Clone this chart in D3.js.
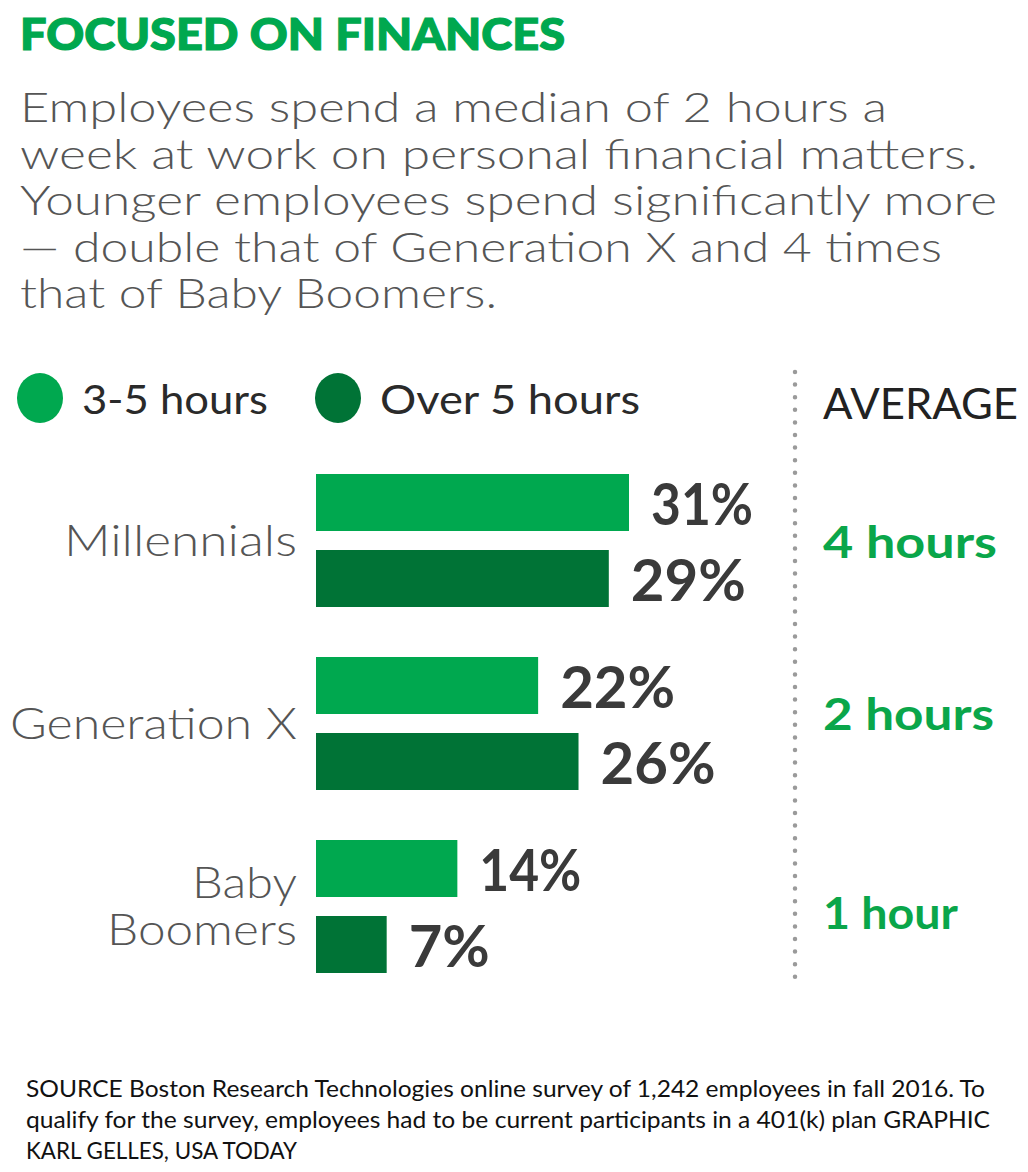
<!DOCTYPE html>
<html>
<head>
<meta charset="utf-8">
<script src="https://cdn.jsdelivr.net/npm/d3@7"></script>
<style>
  html, body { margin: 0; padding: 0; background: #fff; }
  svg { display: block; }
</style>
</head>
<body>
<svg id="chart" width="1028" height="1172"></svg>
<script>
// ---- data ----
const categories = ["Millennials", "Generation X", "Baby Boomers"];
const categoryLines = [["Millennials"], ["Generation X"], ["Baby", "Boomers"]];
const series = ["3-5 hours", "Over 5 hours"];
const values35 = [31, 22, 14];
const valuesOver5 = [29, 26, 7];
const averages = ["4 hours", "2 hours", "1 hour"];
const titleText = "FOCUSED ON FINANCES";
const subtitleLines = [
  "Employees spend a median of 2 hours a",
  "week at work on personal financial matters.",
  "Younger employees spend significantly more",
  "\u2014 double that of Generation X and 4 times",
  "that of Baby Boomers."
];
const sourceLines = [
  "SOURCE Boston Research Technologies online survey of 1,242 employees in fall 2016. To",
  "qualify for the survey, employees had to be current participants in a 401(k) plan GRAPHIC",
  "KARL GELLES, USA TODAY"
];

// ---- style ----
const green = "#00a84f";
const darkGreen = "#007336";
const colors = [green, darkGreen];
const font = "Lato, 'Open Sans', sans-serif";

const svg = d3.select("#chart");

function fit(sel, w) {
  sel.each(function() {
    const n = this.getComputedTextLength();
    if (n > 0) d3.select(this).attr("textLength", w).attr("lengthAdjust", "spacingAndGlyphs");
  });
}

// title
svg.append("text").attr("x", 20).attr("y", 50)
  .attr("font-family", font).attr("font-weight", 900).attr("font-size", 44)
  .attr("fill", green).attr("stroke", green).attr("stroke-width", 1.2)
  .text(titleText).call(fit, 545);

// subtitle
const subW = [867, 958, 977, 922, 477];
subtitleLines.forEach((l, i) => {
  svg.append("text").attr("x", 20).attr("y", 122 + i * 46.6)
    .attr("font-family", font).attr("font-weight", 300).attr("font-size", 41)
    .attr("fill", "#555").text(l).call(fit, subW[i]);
});

// legend
const legendX = [40, 338];
const legendW = [186, 260];
series.forEach((s, i) => {
  svg.append("ellipse").attr("cx", legendX[i]).attr("cy", 398).attr("rx", 23).attr("ry", 25)
    .attr("fill", colors[i]);
  svg.append("text").attr("x", legendX[i] + 42).attr("y", 414)
    .attr("font-family", font).attr("font-size", 40).attr("fill", "#2a2a2a")
    .text(s).call(fit, legendW[i]);
});

// scales
const x = d3.scaleLinear().domain([0, 31]).range([316, 629]);
const y = d3.scaleBand().domain(categories).range([474, 1023]).paddingInner(0).paddingOuter(0);
const barH = 57, barGap = 19;

const rows = [];
categories.forEach((c, i) => {
  rows.push({ c, s: 0, v: values35[i] });
  rows.push({ c, s: 1, v: valuesOver5[i] });
});

const g = svg.append("g");
g.selectAll("rect").data(rows).enter().append("rect")
  .attr("x", x(0))
  .attr("y", d => y(d.c) + d.s * (barH + barGap))
  .attr("width", d => x(d.v) - x(0))
  .attr("height", barH)
  .attr("fill", d => colors[d.s]);

g.selectAll("text.val").data(rows).enter().append("text")
  .attr("class", "val")
  .attr("x", d => x(d.v) + 22)
  .attr("y", d => y(d.c) + d.s * (barH + barGap) + barH / 2 + 22)
  .attr("font-family", font).attr("font-weight", 700).attr("font-size", 58)
  .attr("fill", "#3a3a3a")
  .text(d => d.v + "%")
  .each(function(d) {
    const w = String(d.v).length === 1 ? 81 : (String(d.v).startsWith("1") || String(d.v).startsWith("3") ? 102 : 115);
    d3.select(this).call(fit, w);
  });

// category labels
const catW = [[233], [287], [105, 190]];
categoryLines.forEach((lines, i) => {
  const mid = y(categories[i]) + barH + barGap / 2;
  const lh = 47;
  lines.forEach((l, j) => {
    svg.append("text").attr("x", 297).attr("text-anchor", "end")
      .attr("y", mid + 15 + (j - (lines.length - 1) / 2) * lh)
      .attr("font-family", font).attr("font-weight", 300).attr("font-size", 43)
      .attr("fill", "#555").text(l).call(fit, catW[i][j]);
  });
});

// dotted divider
svg.append("line").attr("x1", 795).attr("x2", 795).attr("y1", 372).attr("y2", 986)
  .attr("stroke", "#9a9a9a").attr("stroke-width", 4.5).attr("stroke-linecap", "round")
  .attr("stroke-dasharray", "0 12.6");

// average header
svg.append("text").attr("x", 823).attr("y", 419)
  .attr("font-family", font).attr("font-weight", 400).attr("font-size", 42)
  .attr("fill", "#222").text("AVERAGE").call(fit, 195);

// averages
const avgW = [174, 171, 135];
const avgY = [558, 730, 929];
averages.forEach((a, i) => {
  svg.append("text").attr("x", 823).attr("y", avgY[i])
    .attr("font-family", font).attr("font-weight", 700).attr("font-size", 44)
    .attr("fill", "#0aa64a").text(a).call(fit, avgW[i]);
});

// source
const srcW = [959, 964, 271];
sourceLines.forEach((l, i) => {
  svg.append("text").attr("x", 26).attr("y", 1097 + i * 31)
    .attr("font-family", font).attr("font-size", 23).attr("fill", "#111")
    .text(l).call(fit, srcW[i]);
});
</script>
</body>
</html>
